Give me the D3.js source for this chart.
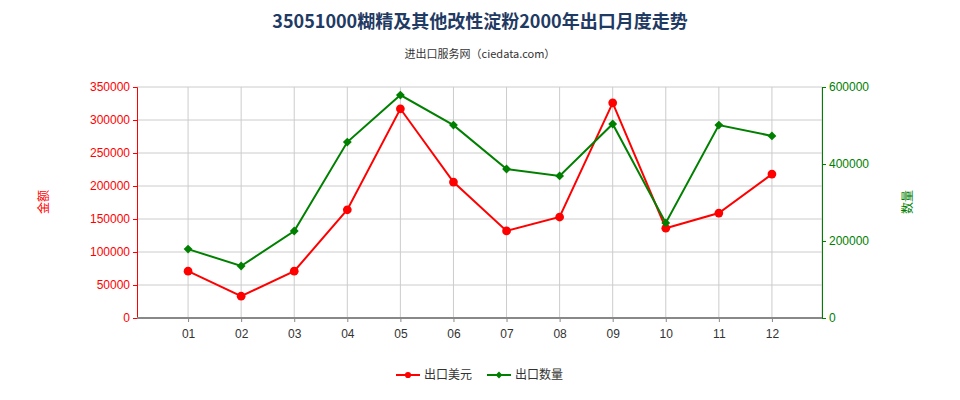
<!DOCTYPE html>
<html><head><meta charset="utf-8">
<script src="https://cdn.jsdelivr.net/npm/d3@7"></script>
<style>body{margin:0;background:#fff;font-family:"Noto Sans CJK SC","DejaVu Sans",sans-serif}</style>
</head><body><svg id="c" width="960" height="400"></svg>
<script>
// chart data
var months = ["01","02","03","04","05","06","07","08","09","10","11","12"];
var usd = [71000,33000,71000,164000,317000,206000,132000,153000,326000,136000,159000,218000];
var qty = [179000,135000,226000,457000,579000,501000,387000,369000,504000,247000,501000,473000];
var leftTicks = [0,50000,100000,150000,200000,250000,300000,350000];
var rightTicks = [0,200000,400000,600000];

var svg = d3.select("#c");
var L = 137, R = 822, T = 87, B = 318;
var x = d3.scalePoint().domain(months).range([135, 825]).padding(1);
var yl = d3.scaleLinear().domain([0,350000]).range([B, T]);
var yr = d3.scaleLinear().domain([0,600000]).range([B, T]);

svg.append("text").attr("x",480).attr("y",28).attr("text-anchor","middle")
   .attr("font-size",18).attr("font-weight","bold").attr("fill","#1f3a63")
   .text("35051000糊精及其他改性淀粉2000年出口月度走势");
svg.append("text").attr("x",480).attr("y",58).attr("text-anchor","middle")
   .attr("font-size",11).attr("fill","#333").text("进出口服务网（ciedata.com）");

// grid
svg.append("g").selectAll("line").data(leftTicks.slice(1)).join("line")
   .attr("x1",L).attr("x2",R).attr("y1",d=>yl(d)).attr("y2",d=>yl(d))
   .attr("stroke","#ccc");
svg.append("g").selectAll("line").data(months).join("line")
   .attr("x1",d=>x(d)).attr("x2",d=>x(d)).attr("y1",T).attr("y2",B)
   .attr("stroke","#ccc");
svg.append("line").attr("x1",R).attr("x2",R).attr("y1",T).attr("y2",B).attr("stroke","#ccc");

// axes
var gl = svg.append("g").attr("transform","translate("+L+",0)")
   .call(d3.axisLeft(yl).tickValues(leftTicks).tickFormat(d3.format("d")).tickSize(4));
gl.selectAll("path,line").attr("stroke","red");
gl.selectAll("text").attr("fill","red").attr("font-size",12);
var gr = svg.append("g").attr("transform","translate("+R+",0)")
   .call(d3.axisRight(yr).tickValues(rightTicks).tickFormat(d3.format("d")).tickSize(4));
gr.selectAll("path,line").attr("stroke","green");
gr.selectAll("text").attr("fill","green").attr("font-size",12);
var gb = svg.append("g").attr("transform","translate(0,"+B+")")
   .call(d3.axisBottom(x).tickSize(4).tickSizeOuter(0));
gb.select("path").attr("d","M"+L+",0H"+R).attr("stroke","#888").attr("stroke-width",2);
gb.selectAll("line").attr("stroke","#888");
gb.selectAll("text").attr("font-size",12).attr("fill","#333").attr("dy","1.1em");

svg.append("text").attr("transform","translate(48,202) rotate(-90)").attr("text-anchor","middle")
   .attr("font-size",12).attr("fill","red").text("金额");
svg.append("text").attr("transform","translate(912,202) rotate(-90)").attr("text-anchor","middle")
   .attr("font-size",12).attr("fill","green").text("数量");

// lines
function series(vals, y, color, sym) {
  svg.append("path").datum(vals)
     .attr("d", d3.line().x((d,i)=>x(months[i])).y(d=>y(d)))
     .attr("fill","none").attr("stroke",color).attr("stroke-width",2);
  svg.append("g").selectAll("path").data(vals).join("path")
     .attr("transform",(d,i)=>"translate("+x(months[i])+","+y(d)+")")
     .attr("d", d3.symbol().type(sym).size(sym===d3.symbolCircle?60:50))
     .attr("fill",color);
}
series(usd, yl, "red", d3.symbolCircle);
series(qty, yr, "green", d3.symbolDiamond2);

// legend
var lg = [["出口美元","red",d3.symbolCircle,396],["出口数量","green",d3.symbolDiamond2,487]];
lg.forEach(function(l){
  svg.append("line").attr("x1",l[3]).attr("x2",l[3]+24).attr("y1",375).attr("y2",375)
     .attr("stroke",l[1]).attr("stroke-width",2);
  svg.append("path").attr("transform","translate("+(l[3]+12)+",375)")
     .attr("d",d3.symbol().type(l[2]).size(30)).attr("fill",l[1]);
  svg.append("text").attr("x",l[3]+28).attr("y",379).attr("font-size",12).attr("fill","#333").text(l[0]);
});
</script></body></html>
